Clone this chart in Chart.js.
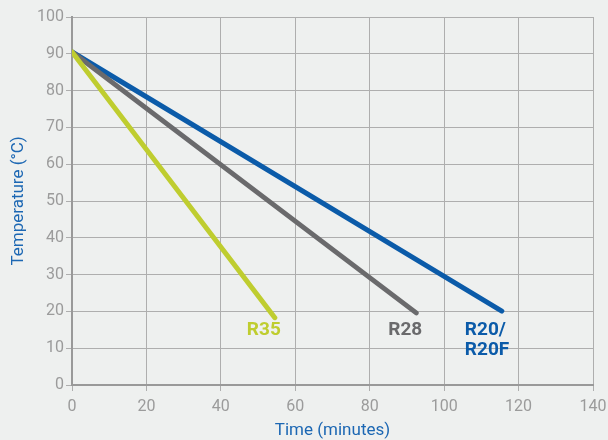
<!DOCTYPE html>
<html>
<head>
<meta charset="utf-8">
<script src="https://cdn.jsdelivr.net/npm/chart.js@4/dist/chart.umd.min.js"></script>
<style>
  html, body { margin: 0; padding: 0; background: #eef0ef; }
  #wrap { width: 608px; height: 440px; }
</style>
</head>
<body>
<div id="wrap"><canvas id="line-chart" width="608" height="440"></canvas></div>
<script>
// time (minutes) and temperature (°C)
const r35Time = [0, 54.5];
const r35Temp = [90.5, 18.3];
const r28Time = [0, 92.5];
const r28Temp = [90.5, 19.6];
const r20Time = [0, 115.5];
const r20Temp = [90.5, 20.1];

const seriesNames = [["R35"], ["R28"], ["R20/", "R20F"]];
const seriesColors = ['#bfcd2f', '#6a6a6c', '#0b5ba9'];

const FONT = "Roboto, sans-serif";

const toPoints = (xs, ys) => xs.map((x, i) => ({ x: x, y: ys[i] }));

// draws each series name just under the end of its line
const endLabels = {
    id: 'endLabels',
    afterDatasetsDraw(chart) {
        const c = chart.ctx;
        c.save();
        c.font = "bold 19px " + FONT;
        c.textBaseline = 'middle';
        const rowY = chart.scales.y.getPixelForValue(15);
        chart.data.datasets.forEach((ds, i) => {
            const last = ds.data[ds.data.length - 1];
            const px = chart.scales.x.getPixelForValue(last.x);
            c.fillStyle = seriesColors[i];
            seriesNames[i].forEach((txt, j) => {
                if (i == 2) {
                    c.textAlign = 'left';
                    c.fillText(txt, px - 37, rowY + j * 20);
                } else {
                    c.textAlign = 'right';
                    c.fillText(txt, px + 6, rowY + j * 20);
                }
            });
        });
        c.restore();
    }
};

const ctx = document.getElementById("line-chart");

let chartGraph = new Chart(ctx, {
    type: "line",
    data: {
        datasets: [
            { data: toPoints(r35Time, r35Temp), borderColor: seriesColors[0] },
            { data: toPoints(r28Time, r28Temp), borderColor: seriesColors[1] },
            { data: toPoints(r20Time, r20Temp), borderColor: seriesColors[2] },
        ].map(d => Object.assign(d, {
            borderWidth: 5,
            borderCapStyle: 'round',
            pointRadius: 0,
            fill: false,
            tension: 0,
        }))
    },
    options: {
        responsive: false,
        animation: false,
        layout: { padding: { top: 17, right: 15, left: 0, bottom: 0 } },
        plugins: {
            legend: { display: false },
            tooltip: { enabled: false },
        },
        scales: {
            x: {
                type: 'linear',
                min: 0,
                max: 140,
                ticks: { stepSize: 20, color: '#9b9b9b', font: { family: FONT, size: 16 }, padding: 6 },
                grid: { color: '#aeaeae', lineWidth: 1, tickLength: 6 },
                border: { color: '#999999', width: 2 },
                title: { display: true, text: 'Time (minutes)', color: '#1c67b3', font: { family: FONT, size: 17 }, padding: { top: 4, bottom: -1 } },
                afterFit(s) { s.height = 55; s.paddingLeft = 0; s.paddingRight = 0; },
            },
            y: {
                min: 0,
                max: 100,
                ticks: { stepSize: 10, color: '#9b9b9b', font: { family: FONT, size: 16 }, padding: 2 },
                grid: { color: '#aeaeae', lineWidth: 1, tickLength: 6 },
                border: { color: '#999999', width: 2 },
                title: { display: true, text: 'Temperature (°C)', color: '#1c67b3', font: { family: FONT, size: 17 }, padding: { top: 9, bottom: 2 } },
                afterFit(s) { s.width = 72; },
            },
        },
    },
    plugins: [endLabels],
});
</script>
</body>
</html>
